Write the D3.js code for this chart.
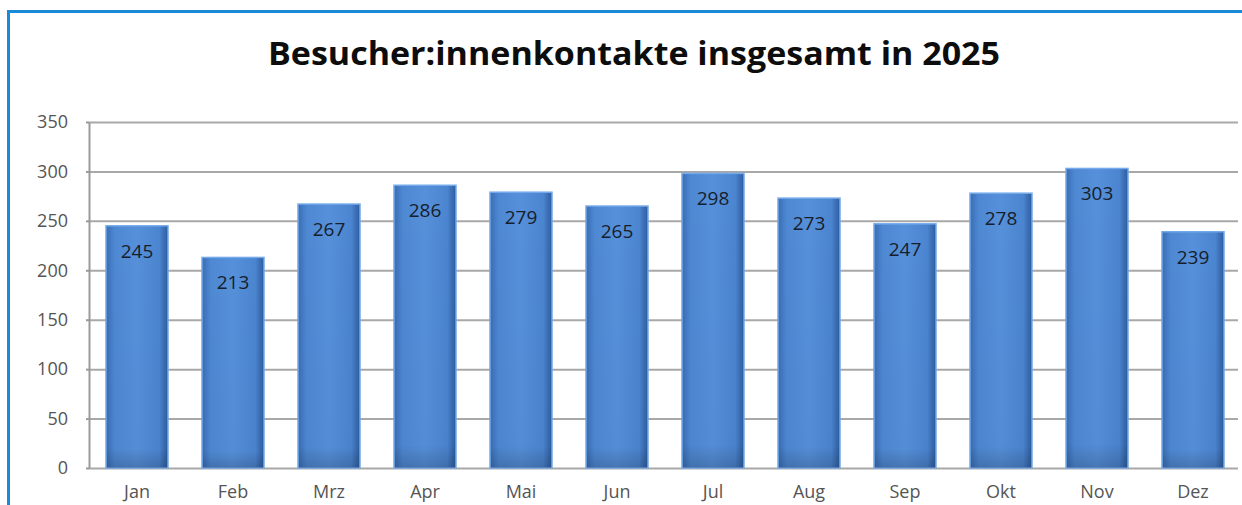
<!DOCTYPE html>
<html>
<head>
<meta charset="utf-8">
<script src="https://cdn.jsdelivr.net/npm/d3@7"></script>
<style>
  body { margin: 0; background: #fff; }
  #chart text { font-family: "Open Sans", "Noto Sans", sans-serif; }
  .axis path.domain { stroke: #9a9a9a; stroke-width: 2; }
  .grid line { stroke: #a8a8a8; stroke-width: 2; }
  .grid path.domain { display: none; }
  .axis text { fill: #555; font-size: 18px; }
</style>
</head>
<body>
<div id="chart"></div>
<script>
var data = [
  {month: "Jan", value: 245},
  {month: "Feb", value: 213},
  {month: "Mrz", value: 267},
  {month: "Apr", value: 286},
  {month: "Mai", value: 279},
  {month: "Jun", value: 265},
  {month: "Jul", value: 298},
  {month: "Aug", value: 273},
  {month: "Sep", value: 247},
  {month: "Okt", value: 278},
  {month: "Nov", value: 303},
  {month: "Dez", value: 239}
];

var W = 1242, H = 505;
var plot = {left: 89, right: 1238, top: 122, bottom: 468};

var svg = d3.select("#chart").append("svg")
    .attr("width", W)
    .attr("height", H);

// gradients for the bevelled bars
var defs = svg.append("defs");
var hg = defs.append("linearGradient").attr("id", "barH")
    .attr("x1", "0%").attr("x2", "100%").attr("y1", "0%").attr("y2", "0%");
[["0%", "#3a6cb3"], ["14%", "#4e88d2"], ["50%", "#5690da"], ["86%", "#4b84cf"], ["100%", "#2c5c9e"]]
  .forEach(function(s) { hg.append("stop").attr("offset", s[0]).attr("stop-color", s[1]); });
var vg = defs.append("linearGradient").attr("id", "barV")
    .attr("x1", "0%").attr("x2", "0%").attr("y1", "0%").attr("y2", "100%");
[["0%", "#000", 0], ["92%", "#000", 0.02], ["100%", "#000", 0.18]]
  .forEach(function(s) { vg.append("stop").attr("offset", s[0]).attr("stop-color", s[1]).attr("stop-opacity", s[2]); });

// frame (left + top blue border)
svg.append("path")
    .attr("d", "M8.5," + H + "V11.5H" + W)
    .attr("fill", "none")
    .attr("stroke", "#1a8ad6")
    .attr("stroke-width", 3);

var x = d3.scaleBand()
    .domain(data.map(function(d) { return d.month; }))
    .range([plot.left, 1241])
    .paddingInner(0.354)
    .paddingOuter(0.177);

var y = d3.scaleLinear()
    .domain([0, 350])
    .range([plot.bottom, plot.top]);

// grid lines + y labels
svg.append("g")
    .attr("class", "axis grid")
    .attr("transform", "translate(" + plot.left + ",0)")
    .call(d3.axisLeft(y).tickValues(d3.range(0, 351, 50))
      .tickSizeInner(-(plot.right - plot.left)).tickSizeOuter(0).tickPadding(21));

// small outward ticks + axis line
svg.append("g")
    .attr("class", "axis")
    .attr("transform", "translate(" + plot.left + ",0)")
    .call(d3.axisLeft(y).tickValues(d3.range(0, 351, 50))
      .tickSizeInner(3).tickSizeOuter(0).tickFormat(""))
    .selectAll("line").attr("stroke", "#9a9a9a").attr("stroke-width", 2);

// x labels
var xAxis = svg.append("g")
    .attr("class", "axis")
    .attr("transform", "translate(0," + plot.bottom + ")")
    .call(d3.axisBottom(x).tickSize(0).tickPadding(17));
xAxis.select(".domain").remove();

var bar = svg.selectAll(".bar")
    .data(data)
  .enter().append("g")
    .attr("class", "bar");

bar.append("rect")
    .attr("x", function(d) { return x(d.month); })
    .attr("y", function(d) { return y(d.value); })
    .attr("width", x.bandwidth())
    .attr("height", function(d) { return y(0) - y(d.value); })
    .attr("fill", "url(#barH)")
    .attr("stroke", "#74aaea")
    .attr("stroke-width", 1.5);

bar.append("rect")
    .attr("x", function(d) { return x(d.month) + 1; })
    .attr("y", function(d) { return y(d.value) + 1; })
    .attr("width", x.bandwidth() - 2)
    .attr("height", function(d) { return y(0) - y(d.value) - 1; })
    .attr("fill", "url(#barV)");

bar.append("text")
    .attr("x", function(d) { return x(d.month) + x.bandwidth() / 2; })
    .attr("y", function(d) { return y(d.value) + 32; })
    .attr("text-anchor", "middle")
    .attr("font-size", "19px")
    .attr("fill", "#16202b")
    .text(function(d) { return d.value; });

// title
svg.append("text")
    .attr("x", 634)
    .attr("y", 65)
    .attr("text-anchor", "middle")
    .attr("font-size", "33px")
    .attr("font-weight", "bold")
    .attr("fill", "#0d0d0d")
    .attr("textLength", 732)
    .attr("lengthAdjust", "spacingAndGlyphs")
    .text("Besucher:innenkontakte insgesamt in 2025");
</script>
</body>
</html>
